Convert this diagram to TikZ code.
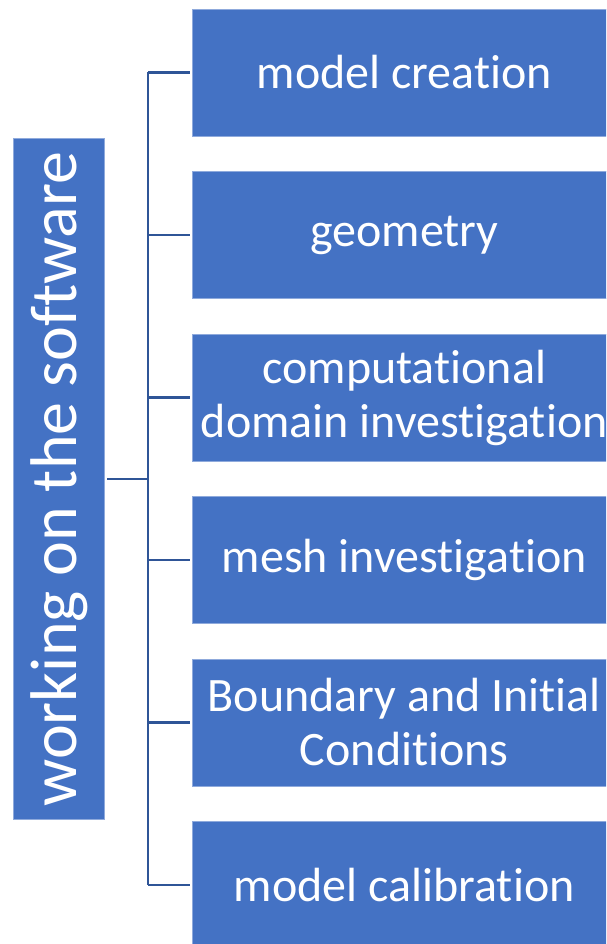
\documentclass[tikz,border=0pt]{standalone}
\usepackage{fontspec}
\setmainfont[Ligatures=NoCommon,RawFeature={-liga;-clig;-dlig}]{Carlito}
\definecolor{boxblue}{HTML}{4472C4}
\definecolor{edgeblue}{HTML}{8FAADC}
\definecolor{linkblue}{HTML}{2F5597}
\begin{document}
\begin{tikzpicture}[x=1pt,y=-1pt,
  rbox/.style={fill=boxblue,draw=edgeblue,line width=0.8pt,text=white,
    minimum width=424,minimum height=127,inner sep=0pt,align=center,
    font=\fontsize{48}{54}\selectfont},
  lbox/.style={fill=boxblue,draw=edgeblue,line width=0.8pt,text=white,
    minimum width=681,minimum height=91.4,inner sep=0pt,rotate=90,
    font=\fontsize{66}{70}\selectfont},
  conn/.style={draw=linkblue,line width=2.6pt}]
\useasboundingbox (0,0) rectangle (606,944);
\clip (0,0) rectangle (606,944);
\node[lbox] (L) at (59,479) {working on the software};
\node[rbox] (b1) at (404.3,72.5) {model creation};
\node[rbox] (b2) at (404.3,235) {geometry};
\node[rbox] (b3) at (404.3,397.5) {computational\\domain investigation};
\node[rbox] (b4) at (404.3,560) {mesh investigation};
\node[rbox] (b5) at (404.3,722.5) {Boundary and Initial\\Conditions};
\node[rbox] (b6) at (404.3,885) {model calibration};
\coordinate (j) at (148,479);
\draw[conn] ([xshift=2pt]L.south) -- (j);
\draw[conn] (b1.west -| j) -- (b6.west -| j);
\foreach \i in {1,...,6}{
  \draw[conn] (b\i.west -| j) -- ([xshift=-2pt]b\i.west);
}
\end{tikzpicture}
\end{document}
